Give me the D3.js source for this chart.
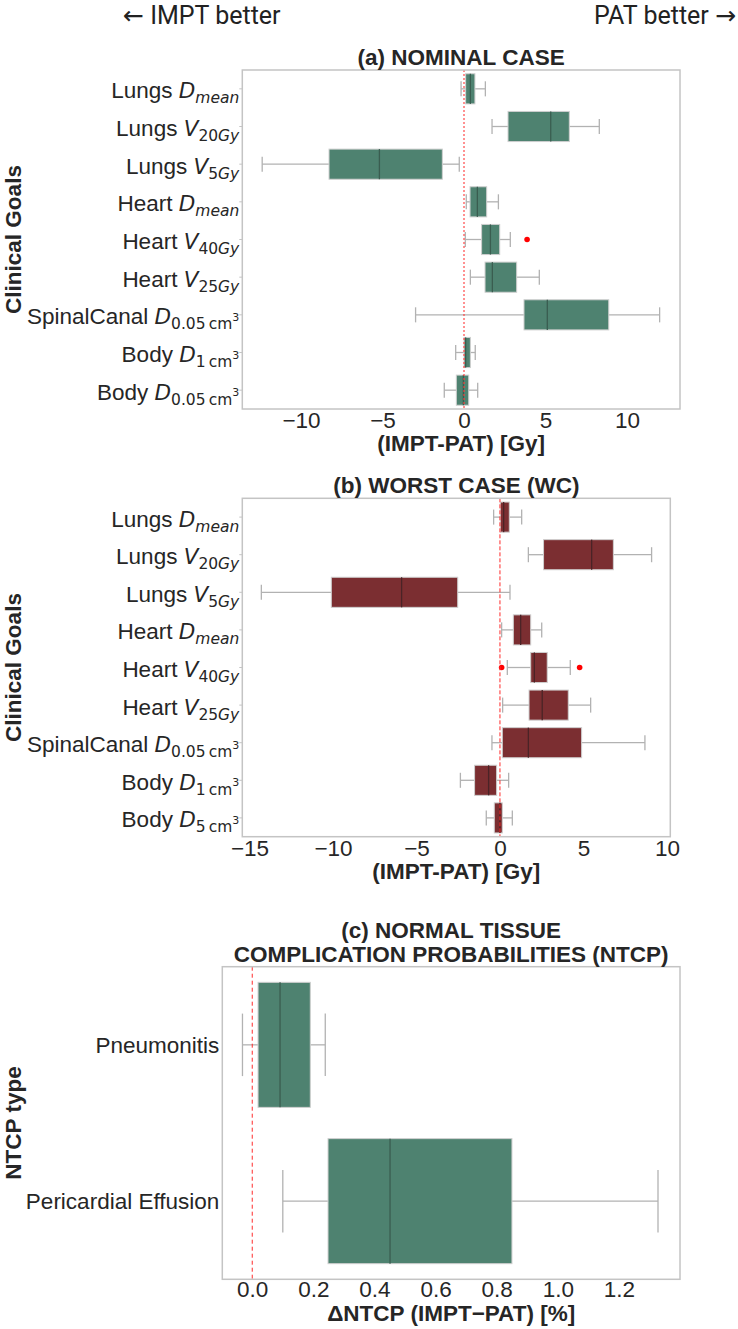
<!DOCTYPE html>
<html>
<head>
<meta charset="utf-8">
<script src="https://cdn.jsdelivr.net/npm/d3@7"></script>
<style>
  html, body { margin: 0; padding: 0; background: #ffffff; }
  svg { display: block; }
  text { white-space: pre; }
</style>
</head>
<body>
<script>
// ---------------- DATA ----------------
const goalsNominal = ["Lungs D_mean", "Lungs V_20Gy", "Lungs V_5Gy", "Heart D_mean", "Heart V_40Gy",
  "Heart V_25Gy", "SpinalCanal D_0.05cm3", "Body D_1cm3", "Body D_0.05cm3"];
const nomWhiskerLo = [-0.18, 1.72, -12.38, 0.14, 0.08, 0.39, -2.97, -0.51, -1.21];
const nomQ1        = [0.10, 2.70, -8.28, 0.37, 1.08, 1.29, 3.68, 0.00, -0.47];
const nomMedian    = [0.39, 5.32, -5.19, 0.82, 1.62, 1.74, 5.11, 0.10, -0.04];
const nomQ3        = [0.67, 6.46, -1.33, 1.39, 2.19, 3.23, 8.88, 0.39, 0.29];
const nomWhiskerHi = [1.31, 8.30, -0.29, 2.11, 2.84, 4.62, 12.00, 0.69, 0.84];
const nomOutliers  = [[], [], [], [], [3.87], [], [], [], []];
const nomTicks = [-10, -5, 0, 5, 10];

const goalsWorst = ["Lungs D_mean", "Lungs V_20Gy", "Lungs V_5Gy", "Heart D_mean", "Heart V_40Gy",
  "Heart V_25Gy", "SpinalCanal D_0.05cm3", "Body D_1cm3", "Body D_5cm3"];
const wcWhiskerLo = [-0.38, 1.70, -14.29, 0.10, 0.44, 0.16, -0.48, -2.37, -0.82];
const wcQ1        = [0.02, 2.61, -10.10, 0.80, 1.84, 1.74, 0.14, -1.52, -0.34];
const wcMedian    = [0.22, 5.49, -5.89, 1.24, 2.06, 2.53, 1.70, -0.68, 0.00];
const wcQ3        = [0.56, 6.79, -2.53, 1.84, 2.83, 4.09, 4.89, -0.20, 0.14];
const wcWhiskerHi = [1.30, 9.08, 0.60, 2.50, 4.21, 5.43, 8.68, 0.52, 0.74];
const wcOutliers  = [[], [], [], [], [0.10, 4.77], [], [], [], []];
const wcTicks = [-15, -10, -5, 0, 5, 10];

const ntcpTypes = ["Pneumonitis", "Pericardial Effusion"];
const ntcpWhiskerLo = [-0.032, 0.100];
const ntcpQ1        = [0.019, 0.248];
const ntcpMedian    = [0.091, 0.451];
const ntcpQ3        = [0.190, 0.850];
const ntcpWhiskerHi = [0.239, 1.328];
const ntcpOutliers  = [[], []];
const ntcpTicks = [0.0, 0.2, 0.4, 0.6, 0.8, 1.0, 1.2];

// ---------------- STYLE ----------------
const W = 738, H = 1329;
const textFont = "'Liberation Sans', Arial, sans-serif";
const mathFont = "'DejaVu Sans', sans-serif";
const textColor = "#262626";
const green = "#4e8270";
const darkRed = "#7b2e31";
const frameColor = "#c4c4c4";
const whiskerColor = "#b2b2b2";
const fs = 22.5;

const svg = d3.select("body").append("svg").attr("width", W).attr("height", H);

// header
const h1 = svg.append("text").attr("x", 123).attr("y", 23.5).attr("font-family", "Roboto, sans-serif")
  .attr("font-size", 25).attr("fill", "#222");
h1.append("tspan").attr("font-family", mathFont).attr("font-size", 25).text("\u2190");
h1.append("tspan").text(" IMPT better");
const h2 = svg.append("text").attr("x", 736).attr("y", 23.5).attr("text-anchor", "end")
  .attr("font-family", "Roboto, sans-serif").attr("font-size", 25).attr("fill", "#222");
h2.append("tspan").text("PAT better ");
h2.append("tspan").attr("font-family", mathFont).attr("font-size", 25).text("\u2192");

function renderLabel(t, label) {
  const idx = label.lastIndexOf(" ");
  const math = label.slice(idx + 1);
  if (!math.includes("_")) { t.text(label); return false; }
  const organ = label.slice(0, idx + 1);
  const [sym, sub] = math.split("_");
  t.append("tspan").text(organ);
  t.append("tspan").attr("font-family", mathFont).attr("font-style", "italic").attr("font-size", 21.5).text(sym);
  const subSize = 15.5, supSize = 11;
  if (sub.endsWith("cm3")) {
    const num = sub.slice(0, -3);
    t.append("tspan").attr("font-family", mathFont).attr("font-size", subSize).attr("dy", 5).text(num + "\u2009cm");
    t.append("tspan").attr("font-family", mathFont).attr("font-size", supSize).attr("dy", -8.5).text("3");
  } else {
    const m = sub.match(/^([0-9.]*)(.*)$/);
    let first = true;
    if (m[1]) {
      t.append("tspan").attr("font-family", mathFont).attr("font-size", subSize).attr("dy", 5).text(m[1]);
      first = false;
    }
    if (m[2]) {
      const ts = t.append("tspan").attr("font-family", mathFont).attr("font-style", "italic")
        .attr("font-size", subSize).text(m[2]);
      if (first) ts.attr("dy", 5);
    }
  }
  return true;
}

function drawPanel(cfg) {
  const g = svg.append("g");
  const x = d3.scaleLinear().domain(cfg.domain).range([cfg.left, cfg.right]);
  const y = d3.scaleBand().domain(cfg.cats).range([cfg.top, cfg.bottom]).padding(0);
  const bw = y.bandwidth();
  const boxH = bw * 0.8, capH = bw * 0.4;

  const rows = cfg.cats.map((c, i) => ({
    cat: c, lo: cfg.lo[i], q1: cfg.q1[i], med: cfg.med[i], q3: cfg.q3[i], hi: cfg.hi[i], out: cfg.out[i]
  }));

  const rg = g.selectAll("g.row").data(rows).enter().append("g")
    .attr("transform", d => `translate(0,${y(d.cat) + bw / 2})`);

  // whiskers
  rg.append("line").attr("x1", d => x(d.lo)).attr("x2", d => x(d.q1)).attr("y1", 0).attr("y2", 0)
    .attr("stroke", whiskerColor).attr("stroke-width", 1.3);
  rg.append("line").attr("x1", d => x(d.q3)).attr("x2", d => x(d.hi)).attr("y1", 0).attr("y2", 0)
    .attr("stroke", whiskerColor).attr("stroke-width", 1.3);
  rg.append("line").attr("x1", d => x(d.lo)).attr("x2", d => x(d.lo)).attr("y1", -capH / 2).attr("y2", capH / 2)
    .attr("stroke", whiskerColor).attr("stroke-width", 1.3);
  rg.append("line").attr("x1", d => x(d.hi)).attr("x2", d => x(d.hi)).attr("y1", -capH / 2).attr("y2", capH / 2)
    .attr("stroke", whiskerColor).attr("stroke-width", 1.3);
  // box
  rg.append("rect").attr("x", d => x(d.q1)).attr("width", d => Math.max(0.5, x(d.q3) - x(d.q1)))
    .attr("y", -boxH / 2).attr("height", boxH)
    .attr("fill", cfg.color).attr("stroke", "#cfcfcf").attr("stroke-width", 1);
  // median
  rg.append("line").attr("x1", d => x(d.med)).attr("x2", d => x(d.med)).attr("y1", -boxH / 2).attr("y2", boxH / 2)
    .attr("stroke", cfg.medColor).attr("stroke-width", 1.3);
  // outliers
  rg.selectAll("circle").data(d => d.out).enter().append("circle")
    .attr("cx", v => x(v)).attr("cy", 0).attr("r", 2.8).attr("fill", "#ff0000");

  // reference line at 0
  g.append("line").attr("x1", x(0)).attr("x2", x(0)).attr("y1", cfg.top).attr("y2", cfg.bottom)
    .attr("stroke", cfg.refColor).attr("stroke-width", cfg.refWidth).attr("stroke-dasharray", cfg.refDash);

  // frame
  g.append("rect").attr("x", cfg.left).attr("y", cfg.top).attr("width", cfg.right - cfg.left)
    .attr("height", cfg.bottom - cfg.top).attr("fill", "none").attr("stroke", frameColor).attr("stroke-width", 1.5);

  // y axis ticks (marks only)
  if (cfg.yTicks) {
    const ya = g.append("g").attr("transform", `translate(${cfg.left},0)`)
      .call(d3.axisLeft(y).tickSize(3).tickFormat(""));
    ya.select(".domain").remove();
    ya.selectAll("line").attr("stroke", frameColor);
  }
  // y labels
  cfg.cats.forEach(c => {
    const t = g.append("text").attr("x", cfg.left - 3).attr("text-anchor", "end")
      .attr("font-family", textFont).attr("font-size", fs).attr("fill", textColor);
    const hasSub = renderLabel(t, c);
    t.attr("y", y(c) + bw / 2 + (hasSub ? 9.5 : 8));
  });

  // x axis
  const xa = g.append("g").attr("transform", `translate(0,${cfg.bottom})`)
    .call(d3.axisBottom(x).tickValues(cfg.ticks).tickSize(0).tickPadding(cfg.tickPad).tickFormat(cfg.fmt));
  xa.select(".domain").remove();
  xa.selectAll("text").attr("font-family", textFont).attr("font-size", fs).attr("fill", textColor);

  // x axis label
  g.append("text").attr("x", (cfg.left + cfg.right) / 2).attr("y", cfg.bottom + 42).attr("text-anchor", "middle")
    .attr("font-family", textFont).attr("font-weight", "bold").attr("font-size", fs).attr("fill", textColor)
    .text(cfg.xlabel);
  // y axis label
  g.append("text").attr("transform", `translate(21,${(cfg.top + cfg.bottom) / 2}) rotate(-90)`)
    .attr("text-anchor", "middle").attr("font-family", textFont).attr("font-weight", "bold")
    .attr("font-size", fs).attr("fill", textColor).text(cfg.ylabel);
  // title
  cfg.title.forEach((line, i) => {
    g.append("text").attr("x", (cfg.left + cfg.right) / 2)
      .attr("y", cfg.top - 5 - (cfg.title.length - 1 - i) * 23.5).attr("text-anchor", "middle")
      .attr("font-family", textFont).attr("font-weight", "bold").attr("font-size", fs).attr("fill", textColor)
      .text(line);
  });
}

drawPanel({
  cats: goalsNominal, lo: nomWhiskerLo, q1: nomQ1, med: nomMedian, q3: nomQ3, hi: nomWhiskerHi, out: nomOutliers,
  ticks: nomTicks, fmt: d3.format("d"), domain: [-13.6, 13.25],
  left: 242.3, right: 680, top: 70, bottom: 409, tickPad: 3,
  color: green, medColor: "#3a5d50",
  refColor: "rgba(255,60,60,0.75)", refWidth: 1.5, refDash: "2,2",
  title: ["(a) NOMINAL CASE"], xlabel: "(IMPT-PAT) [Gy]", ylabel: "Clinical Goals", yTicks: true
});

drawPanel({
  cats: goalsWorst, lo: wcWhiskerLo, q1: wcQ1, med: wcMedian, q3: wcQ3, hi: wcWhiskerHi, out: wcOutliers,
  ticks: wcTicks, fmt: d3.format("d"), domain: [-15.43, 10.2],
  left: 242.3, right: 670.3, top: 498.3, bottom: 836.7, tickPad: 3,
  color: darkRed, medColor: "#4a2326",
  refColor: "#ff2a2a", refWidth: 1, refDash: "4,2",
  title: ["(b) WORST CASE (WC)"], xlabel: "(IMPT-PAT) [Gy]", ylabel: "Clinical Goals", yTicks: true
});

drawPanel({
  cats: ntcpTypes, lo: ntcpWhiskerLo, q1: ntcpQ1, med: ntcpMedian, q3: ntcpQ3, hi: ntcpWhiskerHi, out: ntcpOutliers,
  ticks: ntcpTicks, fmt: d3.format(".1f"), domain: [-0.098, 1.4],
  left: 222.3, right: 680, top: 966.7, bottom: 1279.3, tickPad: 2,
  color: green, medColor: "#3a5d50",
  refColor: "#ff2a2a", refWidth: 1, refDash: "4,3",
  title: ["(c) NORMAL TISSUE", "COMPLICATION PROBABILITIES (NTCP)"],
  xlabel: "\u0394NTCP (IMPT\u2212PAT) [%]", ylabel: "NTCP type", yTicks: false
});
</script>
</body>
</html>
